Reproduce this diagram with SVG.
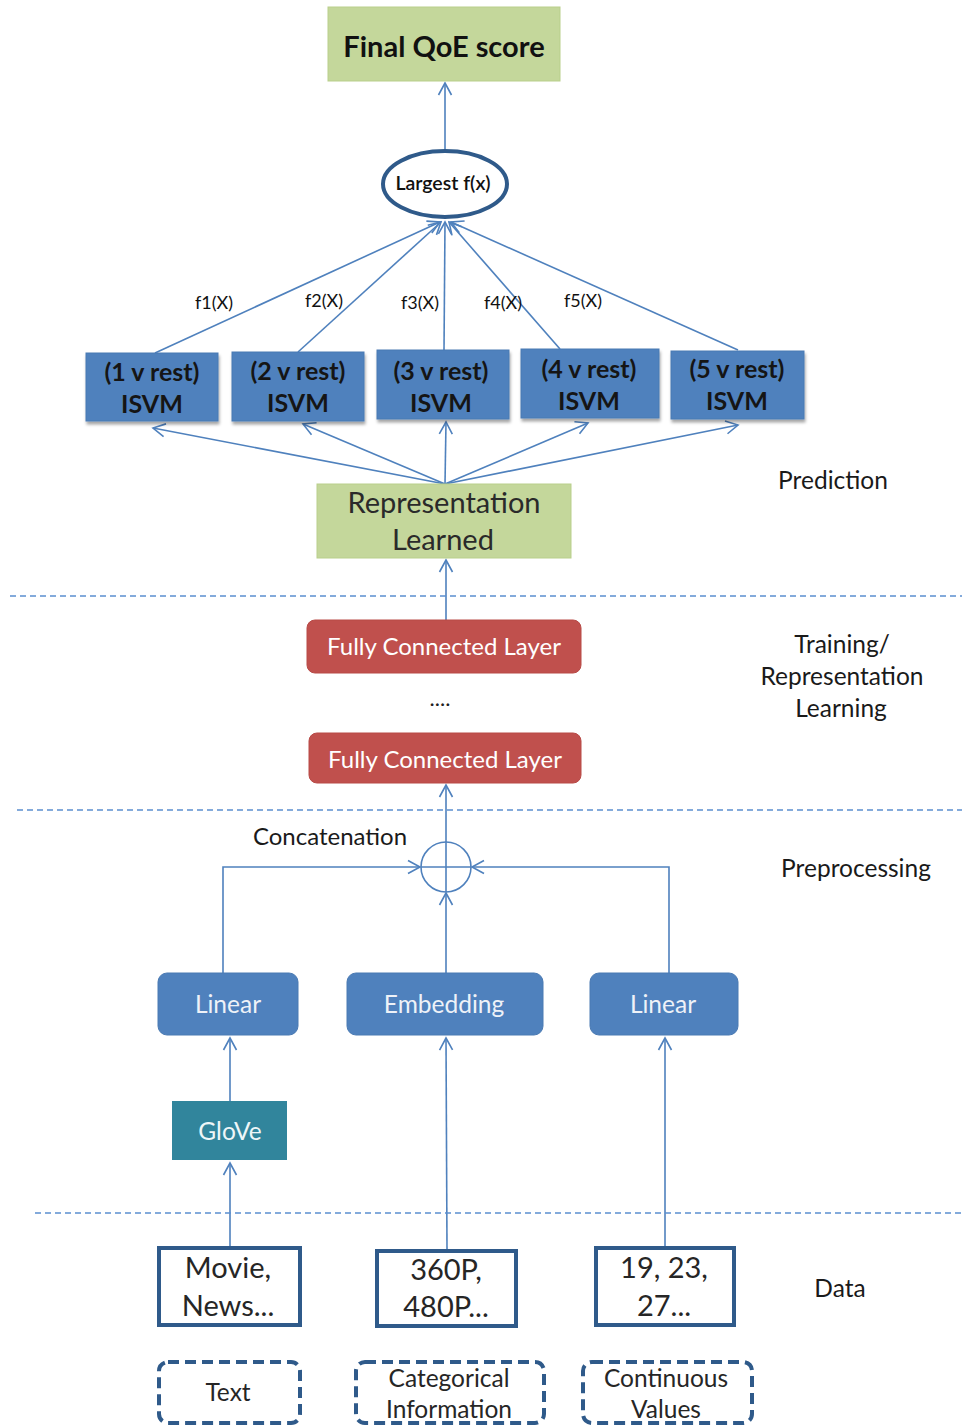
<svg xmlns="http://www.w3.org/2000/svg" width="965" height="1427" viewBox="0 0 965 1427">
<defs>
<marker id="arr" markerUnits="userSpaceOnUse" markerWidth="16" markerHeight="16" viewBox="-14 -8 16 16" refX="0" refY="0" orient="auto">
<path d="M-12,-6.5 L0,0 L-12,6.5" fill="none" stroke="#4f81bd" stroke-width="1.6"/>
</marker>
<filter id="sh" x="-10%" y="-10%" width="125%" height="130%">
<feDropShadow dx="1" dy="3" stdDeviation="1.5" flood-color="#000" flood-opacity="0.35"/>
</filter>
</defs>
<style>
text{font-family:Lato,"Open Sans","Liberation Sans",sans-serif;text-anchor:middle}
.ln{stroke:#4f81bd;stroke-width:1.6;fill:none}
.ar{stroke:#4f81bd;stroke-width:1.6;fill:none;marker-end:url(#arr)}
.dash{stroke:#5b8fd0;stroke-width:1.6;stroke-dasharray:6,4}
.green{fill:#c4d79b;stroke:#b9cf8b;stroke-width:1}
.isvm{fill:#4f81bd;stroke:#4a7ab3;stroke-width:1;filter:url(#sh)}
.isvmt{font-size:25px;font-weight:bold;fill:#151515}
.fc{fill:#c0504d;stroke:#b84a47;stroke-width:1}
.fct{font-size:24px;fill:#fff}
.blue{fill:#4f81bd;stroke:#4a7ab3;stroke-width:1}
.bt{font-size:24.5px;fill:#eef2f8}
.data{fill:#fff;stroke:#2f5a8a;stroke-width:4}
.dt{font-size:29px;fill:#262626}
.dd{fill:#fff;stroke:#2f5a8a;stroke-width:4;stroke-dasharray:11,6}
.ddt{font-size:24.5px;fill:#262626}
.side{font-size:24.5px;fill:#1a1a1a}
.fl{font-size:18px;fill:#111}
</style>

<g id="connectors">
<line class="ar" x1="445" y1="151" x2="445" y2="83"/>
<line class="ar" x1="155" y1="353" x2="440" y2="222"/>
<line class="ar" x1="298" y1="352" x2="441" y2="222"/>
<line class="ar" x1="444" y1="350" x2="445" y2="222"/>
<line class="ar" x1="560" y1="349" x2="449" y2="222"/>
<line class="ar" x1="738" y1="350" x2="451" y2="222"/>
<line class="ar" x1="445" y1="484" x2="153" y2="428"/>
<line class="ar" x1="445" y1="484" x2="303" y2="424"/>
<line class="ar" x1="445" y1="484" x2="446" y2="422"/>
<line class="ar" x1="445" y1="484" x2="588" y2="423"/>
<line class="ar" x1="445" y1="484" x2="738" y2="425"/>
<line class="ar" x1="446" y1="620" x2="446" y2="560"/>
<line class="ar" x1="446" y1="842" x2="446" y2="785"/>
<polyline class="ar" points="223,973 223,867 420,867"/>
<polyline class="ar" points="669,973 669,867 472,867"/>
<line class="ar" x1="446" y1="973" x2="446" y2="893"/>
<line class="ar" x1="230" y1="1101" x2="230" y2="1038"/>
<line class="ar" x1="230" y1="1247" x2="230" y2="1163"/>
<line class="ar" x1="447" y1="1250" x2="446" y2="1038"/>
<line class="ar" x1="665" y1="1247" x2="665" y2="1038"/>
</g>

<g id="dividers">
<line class="dash" x1="10" y1="596" x2="962" y2="596"/>
<line class="dash" x1="17" y1="810" x2="962" y2="810"/>
<line class="dash" x1="35" y1="1213" x2="962" y2="1213"/>
</g>

<g id="final-qoe">
<rect class="green" x="328" y="7" width="232" height="74"/>
<text x="444" y="57" font-size="29" font-weight="bold" fill="#111">Final QoE score</text>
</g>

<g id="largest">
<ellipse cx="445" cy="184" rx="62" ry="33" fill="#fff" stroke="#2f5a8a" stroke-width="4"/>
<text x="443" y="190" font-size="19.5" font-weight="600" fill="#111">Largest f(x)</text>
</g>

<g id="flabels">
<text class="fl" x="214" y="309">f1(X)</text>
<text class="fl" x="324" y="307">f2(X)</text>
<text class="fl" x="420" y="309">f3(X)</text>
<text class="fl" x="503" y="309">f4(X)</text>
<text class="fl" x="583" y="307">f5(X)</text>
</g>

<g id="isvm1">
<rect class="isvm" x="86" y="353" width="132" height="68"/>
<text class="isvmt" x="152" y="381">(1 v rest)</text>
<text class="isvmt" x="152" y="413">ISVM</text>
</g>
<g id="isvm2">
<rect class="isvm" x="232" y="352" width="132" height="69"/>
<text class="isvmt" x="298" y="380">(2 v rest)</text>
<text class="isvmt" x="298" y="412">ISVM</text>
</g>
<g id="isvm3">
<rect class="isvm" x="377" y="350" width="132" height="69"/>
<text class="isvmt" x="441" y="380">(3 v rest)</text>
<text class="isvmt" x="441" y="412">ISVM</text>
</g>
<g id="isvm4">
<rect class="isvm" x="521" y="349" width="138" height="69"/>
<text class="isvmt" x="589" y="378">(4 v rest)</text>
<text class="isvmt" x="589" y="410">ISVM</text>
</g>
<g id="isvm5">
<rect class="isvm" x="671" y="351" width="133" height="68"/>
<text class="isvmt" x="737" y="378">(5 v rest)</text>
<text class="isvmt" x="737" y="410">ISVM</text>
</g>

<g id="representation">
<rect class="green" x="317" y="484" width="254" height="74"/>
<text x="444" y="513" font-size="29" fill="#2a2a2a">Representation</text>
<text x="443" y="550" font-size="29" fill="#2a2a2a">Learned</text>
</g>

<g id="fc1">
<rect class="fc" x="307" y="620" width="274" height="53" rx="8"/>
<text class="fct" x="444" y="655">Fully Connected Layer</text>
</g>
<text x="440" y="706" font-size="22" fill="#222">....</text>
<g id="fc2">
<rect class="fc" x="309" y="733" width="272" height="50" rx="8"/>
<text class="fct" x="445" y="768">Fully Connected Layer</text>
</g>

<g id="concat">
<circle cx="446" cy="867" r="25" fill="none" stroke="#4f81bd" stroke-width="1.6"/>
<line class="ln" x1="446" y1="842" x2="446" y2="892"/>
<line class="ln" x1="421" y1="867" x2="471" y2="867"/>
<text x="330" y="845" font-size="24" fill="#1a1a1a">Concatenation</text>
</g>

<g id="linear-left">
<rect class="blue" x="158" y="973" width="140" height="62" rx="9"/>
<text class="bt" x="228" y="1013">Linear</text>
</g>
<g id="embedding">
<rect class="blue" x="347" y="973" width="196" height="62" rx="9"/>
<text class="bt" x="444" y="1013">Embedding</text>
</g>
<g id="linear-right">
<rect class="blue" x="590" y="973" width="148" height="62" rx="9"/>
<text class="bt" x="663" y="1013">Linear</text>
</g>

<g id="glove">
<rect x="172" y="1101" width="115" height="59" fill="#31859c"/>
<text x="230" y="1140" font-size="24.5" fill="#eef6f8">GloVe</text>
</g>

<g id="data-text">
<rect class="data" x="159" y="1248" width="141" height="77"/>
<text class="dt" x="228" y="1278">Movie,</text>
<text class="dt" x="228" y="1316">News...</text>
</g>
<g id="data-cat">
<rect class="data" x="377" y="1251" width="139" height="75"/>
<text class="dt" x="446" y="1280">360P,</text>
<text class="dt" x="446" y="1317">480P...</text>
</g>
<g id="data-cont">
<rect class="data" x="596" y="1248" width="138" height="77"/>
<text class="dt" x="664" y="1278">19, 23,</text>
<text class="dt" x="664" y="1316">27...</text>
</g>

<g id="type-text">
<rect class="dd" x="159" y="1362" width="141" height="61" rx="9"/>
<text class="ddt" x="228" y="1401">Text</text>
</g>
<g id="type-cat">
<rect class="dd" x="356" y="1362" width="188" height="61" rx="9"/>
<text class="ddt" x="449" y="1387">Categorical</text>
<text class="ddt" x="449" y="1418">Information</text>
</g>
<g id="type-cont">
<rect class="dd" x="583" y="1362" width="169" height="61" rx="9"/>
<text class="ddt" x="666" y="1387">Continuous</text>
<text class="ddt" x="666" y="1418">Values</text>
</g>

<g id="stage-labels">
<text class="side" x="833" y="489">Prediction</text>
<text class="side" x="842" y="653">Training/</text>
<text class="side" x="842" y="685">Representation</text>
<text class="side" x="841" y="717">Learning</text>
<text class="side" x="856" y="877">Preprocessing</text>
<text class="side" x="840" y="1297">Data</text>
</g>
</svg>
